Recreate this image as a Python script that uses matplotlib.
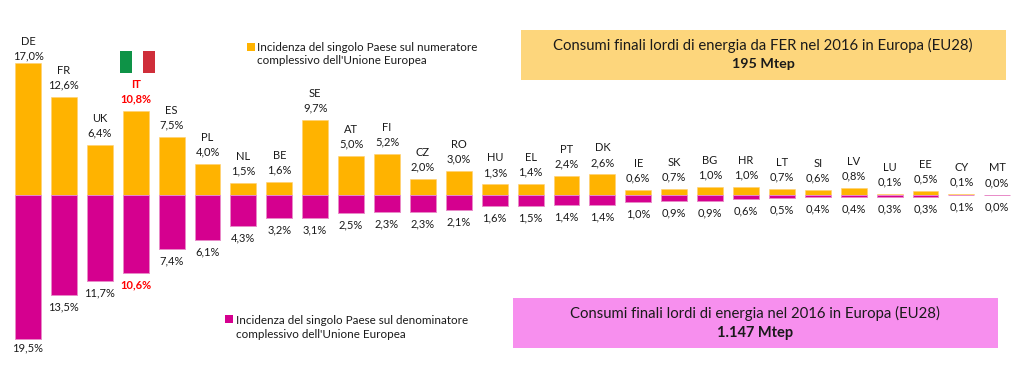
import matplotlib.pyplot as plt
from matplotlib.patches import Rectangle

plt.rcParams['font.family'] = ['Lato', 'DejaVu Sans']

WIDTH, HEIGHT = 1014, 371
BASE = 194.5
ORANGE = '#FFB300'
MAGENTA = '#D5008F'
TEXT = '#1a1a1a'

countries = ['DE', 'FR', 'UK', 'IT', 'ES', 'PL', 'NL', 'BE', 'SE', 'AT', 'FI', 'CZ', 'RO', 'HU',
             'EL', 'PT', 'DK', 'IE', 'SK', 'BG', 'HR', 'LT', 'SI', 'LV', 'LU', 'EE', 'CY', 'MT']
numeratore = [17.0, 12.6, 6.4, 10.8, 7.5, 4.0, 1.5, 1.6, 9.7, 5.0, 5.2, 2.0, 3.0, 1.3,
              1.4, 2.4, 2.6, 0.6, 0.7, 1.0, 1.0, 0.7, 0.6, 0.8, 0.1, 0.5, 0.1, 0.0]
denominatore = [19.5, 13.5, 11.7, 10.6, 7.4, 6.1, 4.3, 3.2, 3.1, 2.5, 2.3, 2.3, 2.1, 1.6,
                1.5, 1.4, 1.4, 1.0, 0.9, 0.9, 0.6, 0.5, 0.4, 0.4, 0.3, 0.3, 0.1, 0.0]

legend_num = "Incidenza del singolo Paese sul numeratore\ncomplessivo dell'Unione Europea"
legend_den = "Incidenza del singolo Paese sul denominatore\ncomplessivo dell'Unione Europea"
title_num = "Consumi finali lordi di energia da FER nel 2016 in Europa (EU28)"
total_num = "195 Mtep"
title_den = "Consumi finali lordi di energia nel 2016 in Europa (EU28)"
total_den = "1.147 Mtep"


def fx(px):
    return px / WIDTH


def fy(px):
    return 1 - px / HEIGHT


def fmt(v):
    return f"{v:.1f}".replace('.', ',') + '%'


def box(fig, x0, y0, x1, y1, color):
    fig.add_artist(Rectangle((fx(x0), fy(y1)), (x1 - x0) / WIDTH, (y1 - y0) / HEIGHT,
                             transform=fig.transFigure, color=color, lw=0))


fig = plt.figure(figsize=(WIDTH / 100, HEIGHT / 100), dpi=100)

ax_top = fig.add_axes([0, fy(BASE), 1, BASE / HEIGHT])
ax_bot = fig.add_axes([0, 0, 1, fy(BASE)])
x = list(range(len(countries)))

for ax in (ax_top, ax_bot):
    ax.set_xlim(-28 / 35.9, (WIDTH - 28) / 35.9)
    ax.axis('off')
    ax.patch.set_alpha(0)
ax_top.set_ylim(0, BASE / 7.72)
ax_bot.set_ylim((HEIGHT - BASE) / 7.42, 0)

ax_top.bar(x, numeratore, width=0.72, color=ORANGE, edgecolor='#FFD070', linewidth=0.4)
ax_bot.bar(x, denominatore, width=0.72, color=MAGENTA, edgecolor='#E88AC8', linewidth=0.7)

# Etichette sopra e sotto le barre
for i, c in enumerate(countries):
    color = 'red' if c == 'IT' else TEXT
    weight = 'bold' if c == 'IT' else 'normal'
    gap_top = 5 if c == 'DE' else 8.6
    gap_bot = 6.5 if c == 'DE' else 8.6
    ax_top.annotate(fmt(numeratore[i]), (i, numeratore[i]), xytext=(0, gap_top), textcoords='offset points',
                    ha='center', va='center', fontsize=8, color=color, weight=weight)
    ax_top.annotate(c, (i, numeratore[i]), xytext=(0, gap_top + 10.5), textcoords='offset points',
                    ha='center', va='center', fontsize=8, color=color, weight=weight)
    ax_bot.annotate(fmt(denominatore[i]), (i, denominatore[i]), xytext=(0, -gap_bot), textcoords='offset points',
                    ha='center', va='center', fontsize=8, color=color, weight=weight)

# Bandiera
box(fig, 120, 51, 132, 73, '#0E9347')
box(fig, 143, 51, 154.5, 73, '#CF2E3A')

# Legende
box(fig, 247, 43, 255, 51, ORANGE)
fig.text(fx(257), fy(54), legend_num, fontsize=8.4, color=TEXT, va='center', ha='left', linespacing=1.3)
box(fig, 225, 315, 233, 323, MAGENTA)
fig.text(fx(236), fy(327.5), legend_den, fontsize=8.4, color=TEXT, va='center', ha='left', linespacing=1.3)

# Riquadri
box(fig, 521, 30, 1006, 80, '#FDD67C')
fig.text(fx(763), fy(45), title_num, fontsize=10.7, color=TEXT, ha='center', va='center')
fig.text(fx(763), fy(64), total_num, fontsize=10.3, color=TEXT, ha='center', va='center', weight='bold')
box(fig, 513, 298, 998, 348, '#F78FEE')
fig.text(fx(755), fy(313), title_den, fontsize=10.7, color=TEXT, ha='center', va='center')
fig.text(fx(755), fy(333), total_den, fontsize=10.5, color=TEXT, ha='center', va='center', weight='bold')

fig.savefig('out.png', dpi=100)
